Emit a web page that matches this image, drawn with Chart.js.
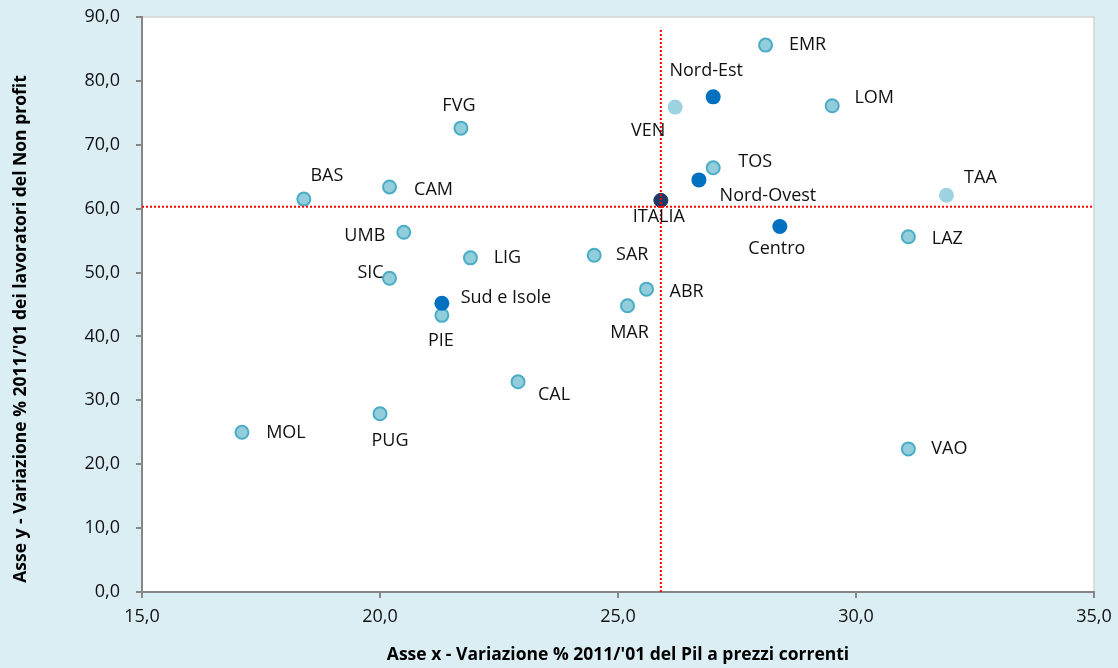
<!DOCTYPE html>
<html lang="it">
<head>
<meta charset="utf-8">
<title>Pil e lavoratori del Non profit</title>
<script src="https://cdn.jsdelivr.net/npm/chart.js@4.4.1/dist/chart.umd.min.js"></script>
<style>
  html, body { margin: 0; padding: 0; background: #daeef3; }
  #wrap { width: 1118px; height: 668px; position: relative; }
</style>
</head>
<body>
<div id="wrap"><canvas id="scatterChart"></canvas></div>
<script>
// Regioni (variazione % 2011/'01: Pil a prezzi correnti, lavoratori Non profit)
const regioni = ['MOL', 'PUG', 'CAL', 'BAS', 'CAM', 'FVG', 'UMB', 'SIC', 'LIG', 'PIE',
                 'SAR', 'MAR', 'ABR', 'EMR', 'LOM', 'TOS', 'LAZ', 'VAO'];
const pilRegioni = [17.1, 20.0, 22.9, 18.4, 20.2, 21.7, 20.5, 20.2, 21.9, 21.3,
                    24.5, 25.2, 25.6, 28.1, 29.5, 27.0, 31.1, 31.1];
const lavRegioni = [25.0, 27.9, 32.9, 61.5, 63.4, 72.6, 56.3, 49.1, 52.3, 43.3,
                    52.7, 44.8, 47.4, 85.6, 76.1, 66.4, 55.6, 22.4];

// Regioni senza bordo
const regioniChiare = ['VEN', 'TAA'];
const pilChiare = [26.2, 31.9];
const lavChiare = [75.9, 62.1];

// Ripartizioni
const ripartizioni = ['Nord-Ovest', 'Nord-Est', 'Centro', 'Sud e Isole'];
const pilRip = [26.7, 27.0, 28.4, 21.3];
const lavRip = [64.5, 77.5, 57.2, 45.2];

// Media nazionale
const italia = ['ITALIA'];
const pilItalia = [25.9];
const lavItalia = [61.3];

// Linee di riferimento (tratteggio rosso)
const rifVerticaleX = [25.9, 25.9];
const rifVerticaleY = [0, 88.3];
const rifOrizzX = [15, 35];
const rifOrizzY = [60.3, 60.3];

// Posizione delle etichette rispetto al punto (dx, dy in px, centro del testo)
const posEtichette = {
    MOL: [44, 1], PUG: [10, 27], CAL: [36, 13], BAS: [23, -23], CAM: [44, 3],
    FVG: [-2, -22], UMB: [-39, 4], SIC: [-19, -5], LIG: [37, 0], PIE: [-1, 26],
    SAR: [38, 0], MAR: [2, 27], ABR: [40, 3], EMR: [42, 0], LOM: [42, -8],
    TOS: [42, -6], LAZ: [39, 2], VAO: [41, 0], VEN: [-27, 24], TAA: [34, -17],
    'Nord-Ovest': [69, 16], 'Nord-Est': [-7, -26], Centro: [-3, 22],
    'Sud e Isole': [64, -5], ITALIA: [-2, 17]
};

const FONT = "'Open Sans', 'Noto Sans', sans-serif";

function punti(xs, ys) {
    return xs.map((x, i) => ({ x: x, y: ys[i] }));
}

function formatta(v) {
    return v.toFixed(1).replace('.', ',');
}

// Sfondo, area del grafico bianca, bordi, etichette e titoli degli assi
const decorazioni = {
    id: 'decorazioni',
    beforeDraw(chart) {
        const { ctx, chartArea: a } = chart;
        ctx.save();
        ctx.fillStyle = '#daeef3';
        ctx.fillRect(0, 0, chart.width, chart.height);
        ctx.fillStyle = '#ffffff';
        ctx.fillRect(a.left, a.top, a.right - a.left, a.bottom - a.top);
        ctx.strokeStyle = '#d4d4d4';
        ctx.lineWidth = 1.5;
        ctx.beginPath();
        ctx.moveTo(a.left, a.top);
        ctx.lineTo(a.right, a.top);
        ctx.lineTo(a.right, a.bottom);
        ctx.stroke();
        ctx.restore();
    },
    afterDraw(chart) {
        const { ctx, chartArea: a } = chart;
        ctx.save();
        // etichette dei punti
        ctx.font = '18px ' + FONT;
        ctx.fillStyle = '#111111';
        ctx.textAlign = 'center';
        ctx.textBaseline = 'middle';
        chart.data.datasets.forEach((ds, i) => {
            if (!ds.nomi) return;
            const meta = chart.getDatasetMeta(i);
            meta.data.forEach((el, j) => {
                const nome = ds.nomi[j];
                const off = posEtichette[nome] || [0, 0];
                ctx.fillText(nome, el.x + off[0], el.y + off[1]);
            });
        });
        // titoli degli assi
        ctx.font = 'bold 17.5px ' + FONT;
        ctx.fillStyle = '#000000';
        ctx.fillText("Asse x - Variazione % 2011/'01 del Pil a prezzi correnti",
                     (a.left + a.right) / 2, 655);
        ctx.translate(21, 329);
        ctx.rotate(-Math.PI / 2);
        ctx.fillText("Asse y - Variazione % 2011/'01 dei lavoratori del Non profit", 0, 0);
        ctx.restore();
    }
};

const datasets = [
    {
        label: 'rifVerticale',
        data: punti(rifVerticaleX, rifVerticaleY),
        showLine: true, pointRadius: 0,
        borderColor: '#ff0000', borderWidth: 2, borderDash: [2, 2],
        order: 0
    },
    {
        label: 'rifOrizzontale',
        data: punti(rifOrizzX, rifOrizzY),
        showLine: true, pointRadius: 0,
        borderColor: '#ff0000', borderWidth: 2, borderDash: [2, 2],
        order: 0
    },
    {
        label: 'Regioni',
        nomi: regioni,
        data: punti(pilRegioni, lavRegioni),
        backgroundColor: '#92cddc', borderColor: '#4bacc6',
        borderWidth: 2, pointRadius: 6.5,
        order: 2
    },
    {
        label: 'Regioni chiare',
        nomi: regioniChiare,
        data: punti(pilChiare, lavChiare),
        backgroundColor: '#9dd3e0', borderWidth: 0, pointRadius: 7.5,
        order: 2
    },
    {
        label: 'Ripartizioni',
        nomi: ripartizioni,
        data: punti(pilRip, lavRip),
        backgroundColor: '#0070c0', borderWidth: 0, pointRadius: 7.5,
        order: 1
    },
    {
        label: 'Italia',
        nomi: italia,
        data: punti(pilItalia, lavItalia),
        backgroundColor: '#1f3864', borderColor: '#17375e', borderWidth: 1, pointRadius: 7,
        order: 1
    }
];

new Chart(document.getElementById('scatterChart'), {
    type: 'scatter',
    data: { datasets: datasets },
    options: {
        responsive: true,
        maintainAspectRatio: false,
        animation: false,
        layout: { padding: { top: 17, right: 24, left: 0, bottom: 0 } },
        plugins: {
            legend: { display: false },
            tooltip: { enabled: false }
        },
        scales: {
            x: {
                type: 'linear',
                min: 15, max: 35,
                afterFit: (s) => { s.height = 76; s.paddingLeft = 0; s.paddingRight = 0; },
                ticks: {
                    stepSize: 5, padding: 8, color: '#111111',
                    font: { family: FONT, size: 18 },
                    callback: (v) => formatta(v)
                },
                grid: { drawOnChartArea: false, drawTicks: true, tickLength: 6, color: '#868686', lineWidth: 2 },
                border: { color: '#868686', width: 2 }
            },
            y: {
                type: 'linear',
                min: 0, max: 90,
                afterFit: (s) => { s.width = 142; s.paddingTop = 0; s.paddingBottom = 0; },
                ticks: {
                    stepSize: 10, padding: 16, color: '#111111',
                    font: { family: FONT, size: 18 },
                    callback: (v) => formatta(v)
                },
                grid: { drawOnChartArea: false, drawTicks: true, tickLength: 6, color: '#868686', lineWidth: 2 },
                border: { color: '#868686', width: 2 }
            }
        }
    },
    plugins: [decorazioni]
});
</script>
</body>
</html>
